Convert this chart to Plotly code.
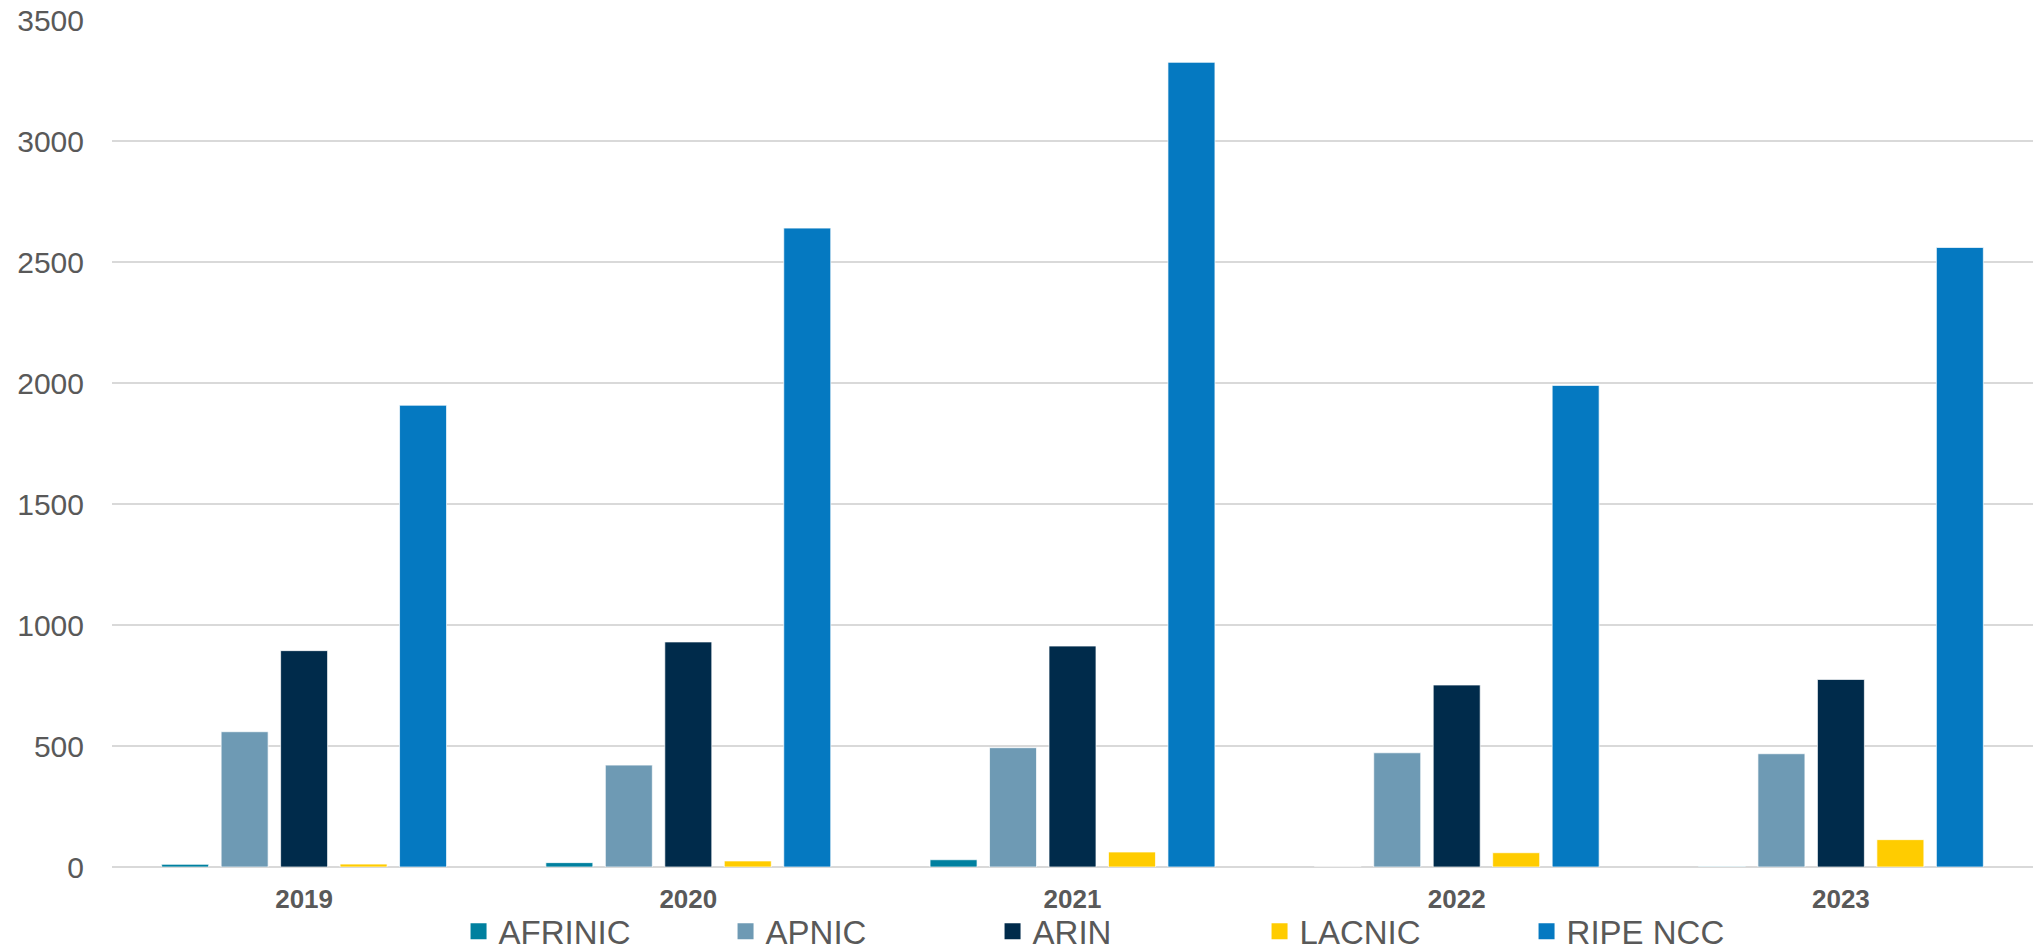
import plotly.graph_objects as go

years = ["2019", "2020", "2021", "2022", "2023"]
afrinic = [11, 18, 30, 0, 2]
apnic = [559, 421, 493, 472, 468]
arin = [894, 930, 913, 752, 775]
lacnic = [12, 25, 62, 59, 113]
ripe_ncc = [1908, 2640, 3325, 1990, 2560]

series_names = ["AFRINIC", "APNIC", "ARIN", "LACNIC", "RIPE NCC"]
series_values = [afrinic, apnic, arin, lacnic, ripe_ncc]
colors = ["#00809F", "#6E9AB4", "#002B4B", "#FFCC00", "#0579C1"]

y_ticks = [0, 500, 1000, 1500, 2000, 2500, 3000, 3500]

fig = go.Figure()
for name, vals, col in zip(series_names, series_values, colors):
    fig.add_trace(go.Bar(
        x=years, y=vals, name=name, legendgroup=name, showlegend=False,
        marker=dict(color=col, line=dict(color="rgba(255,255,255,0.7)", width=1)),
    ))
for name, col in zip(series_names, colors):
    fig.add_trace(go.Scatter(
        x=[None], y=[None], name=name, legendgroup=name, mode="markers",
        marker=dict(symbol="square", size=18, color=col),
    ))

fig.update_layout(
    width=2033, height=952,
    margin=dict(l=112, r=0, t=20, b=85, autoexpand=False),
    paper_bgcolor="white", plot_bgcolor="white",
    barmode="group", bargap=0.226, bargroupgap=0.21,
    font=dict(family="Liberation Sans, Arial, sans-serif", color="#595959"),
    showlegend=True,
    legend=dict(
        orientation="h", x=0.1804, xanchor="left", y=-0.076, yanchor="middle",
        font=dict(size=33, color="#595959"), itemsizing="trace",
        entrywidth=222, entrywidthmode="pixels", bgcolor="rgba(0,0,0,0)",
    ),
    xaxis=dict(
        type="category", showgrid=False, zeroline=False, showline=False,
        tickfont=dict(size=26, color="#595959", family="Liberation Sans, Arial, sans-serif"),
        tickprefix="<b>", ticksuffix="</b>", ticklabelstandoff=14,
    ),
    yaxis=dict(
        range=[0, 3500], tickvals=y_ticks, showgrid=True, gridcolor="#D9D9D9", gridwidth=2,
        zeroline=True, zerolinecolor="#D9D9D9", zerolinewidth=2, showline=False,
        tickfont=dict(size=30, color="#595959"), ticklabelstandoff=27,
    ),
)

fig.write_html("out.html")
